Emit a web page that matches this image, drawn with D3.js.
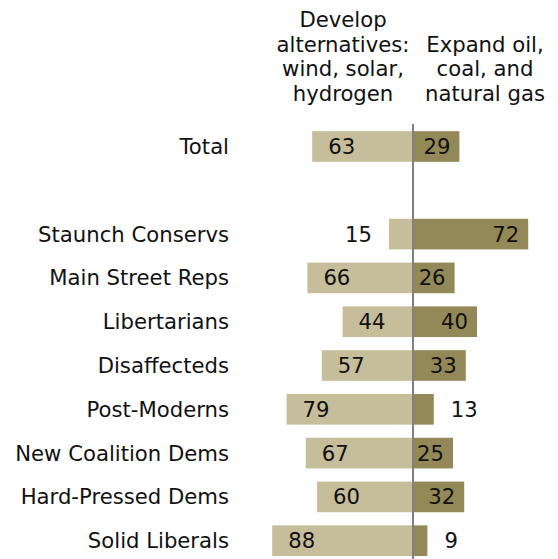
<!DOCTYPE html>
<html><head><meta charset="utf-8">
<script src="https://cdn.jsdelivr.net/npm/d3@7"></script>
<style>body{margin:0;background:#fff}svg{display:block}text{font-family:"DejaVu Sans",Verdana,sans-serif;fill:#111}</style>
</head><body>
<script>
const categories = ["Total","","Staunch Conservs","Main Street Reps","Libertarians","Disaffecteds","Post-Moderns","New Coalition Dems","Hard-Pressed Dems","Solid Liberals"];
const alternatives = [63,null,15,66,44,57,79,67,60,88];
const fossil = [29,null,72,26,40,33,13,25,32,9];
const headerLeft = ["Develop","alternatives:","wind, solar,","hydrogen"];
const headerRight = ["Expand oil,","coal, and","natural gas"];

const W=558,H=559;
const svg=d3.select("body").append("svg").attr("width",W).attr("height",H);
const keys=categories.map((c,i)=>i);
const y=d3.scaleBand().domain(keys).range([124.6,562.6]).paddingInner(0.3).paddingOuter(0.15);
const x=d3.scaleLinear().domain([-100,100]).range([253,573]);
const fs=21.2;

const rows=keys.filter(i=>alternatives[i]!=null);
svg.selectAll("rect.l").data(rows).join("rect").attr("class","l")
  .attr("x",i=>x(-alternatives[i])).attr("width",i=>x(0)-x(-alternatives[i]))
  .attr("y",i=>y(i)).attr("height",y.bandwidth()).attr("fill","#c6bd9b");
svg.selectAll("rect.r").data(rows).join("rect").attr("class","r")
  .attr("x",x(0)).attr("width",i=>x(fossil[i])-x(0))
  .attr("y",i=>y(i)).attr("height",y.bandwidth()).attr("fill","#938958");

svg.selectAll("text.cat").data(rows).join("text").attr("class","cat")
  .attr("x",229).attr("y",i=>y(i)+y.bandwidth()/2+7.5).attr("text-anchor","end")
  .style("font-size",fs+"px").text(i=>categories[i]);

svg.selectAll("text.lv").data(rows).join("text").attr("class","lv")
  .attr("x",i=>alternatives[i]<20? x(-alternatives[i])-17 : x(-alternatives[i])+16)
  .attr("text-anchor",i=>alternatives[i]<20?"end":"start")
  .attr("y",i=>y(i)+y.bandwidth()/2+7.5).style("font-size",fs+"px").text(i=>alternatives[i]);
svg.selectAll("text.rv").data(rows).join("text").attr("class","rv")
  .attr("x",i=>fossil[i]<20? x(fossil[i])+17 : x(fossil[i])-9)
  .attr("text-anchor",i=>fossil[i]<20?"start":"end")
  .attr("y",i=>y(i)+y.bandwidth()/2+7.5).style("font-size",fs+"px").text(i=>fossil[i]);

svg.append("line").attr("x1",x(0)).attr("x2",x(0)).attr("y1",124).attr("y2",H)
  .attr("stroke","#808080").attr("stroke-width",2);

svg.selectAll("text.hl").data(headerLeft).join("text").attr("class","hl")
  .attr("x",343).attr("y",(d,i)=>27+i*24.5).attr("text-anchor","middle")
  .style("font-size",fs+"px").text(d=>d);
svg.selectAll("text.hr").data(headerRight).join("text").attr("class","hr")
  .attr("x",485).attr("y",(d,i)=>51.5+i*24.5).attr("text-anchor","middle")
  .style("font-size",fs+"px").text(d=>d);
</script>
</body></html>
